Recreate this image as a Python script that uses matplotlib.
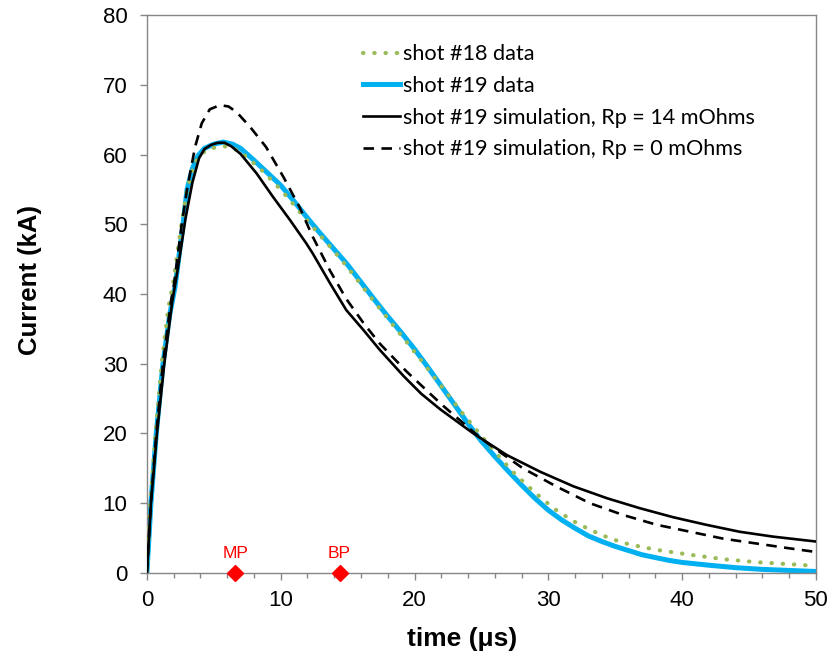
import numpy as np
import matplotlib.pyplot as plt

plt.rcParams['font.family'] = ['Liberation Sans', 'DejaVu Sans']

# shot #18 measured current (green dots)
t18 = [0, 0.25, 0.65, 1.1, 1.6, 2.0, 2.5, 3.0, 3.5, 4.0, 4.6, 5.3, 6.0, 6.8, 7.5, 8.5, 9.5,
       10.5, 11.5, 12.5, 13.5, 14.5, 15.5, 16.5, 17.5, 18.5, 19.5, 20.5, 21.5, 22.5, 23.5,
       24.5, 25.5, 26.5, 27.5, 28.5, 29.5, 30.6, 31.8, 33.1, 34.3, 35.6, 36.8, 38.1, 40.6,
       43.1, 45.6, 48.1, 50]
i18 = [0, 10, 20, 30, 38, 42, 49, 55, 58.5, 60.0, 60.8, 61.1, 61.2, 60.6, 59.6, 57.9, 56.0,
       53.9, 51.6, 49.4, 47.2, 45.0, 42.6, 40.1, 37.7, 35.3, 32.9, 30.5, 28.0, 25.6, 23.1,
       20.8, 18.5, 16.3, 14.2, 12.4, 10.7, 9.0, 7.5, 6.2, 5.2, 4.3, 3.8, 3.3, 2.6,
       1.96, 1.53, 1.24, 1.0]

# shot #19 measured current (blue)
t19 = [0, 0.3, 0.7, 1.2, 1.7, 2.1, 2.7, 3.0, 3.4, 3.8, 4.3, 5.0, 5.7, 6.4, 7.0, 8.0, 9.0,
       10, 11, 12, 13, 14, 15, 16, 17, 18, 19, 20, 21, 22, 23, 24, 25, 26, 27, 28, 29, 30,
       31, 32, 33, 34, 35, 36, 37, 38, 39, 40, 42, 44, 46, 48, 50]
i19 = [0, 10, 20, 30, 37, 41, 50, 55, 58, 59.8, 60.9, 61.5, 61.8, 61.5, 60.9, 59.2, 57.4,
       55.6, 53.3, 50.9, 48.6, 46.4, 44.2, 41.7, 39.2, 36.8, 34.5, 32.1, 29.5, 26.8, 24.1,
       21.4, 18.9, 16.7, 14.6, 12.6, 10.7, 9.0, 7.6, 6.4, 5.3, 4.5, 3.8, 3.2, 2.6, 2.2, 1.8,
       1.5, 1.1, 0.75, 0.5, 0.35, 0.2]

# simulation, Rp = 14 mOhms
t_sim14 = [0, 0.3, 0.75, 1.3, 1.9, 2.3, 2.9, 3.4, 3.9, 4.3, 4.8, 5.3, 5.8, 6.3, 7.0, 8.2,
           9.4, 10.7, 11.9, 12.4, 13.7, 14.9, 16.2, 17.4, 19.2, 20.5, 21.9, 24.4, 26.9, 29.4,
           31.9, 34.4, 36.8, 39.3, 41.8, 44.3, 46.8, 50]
i_sim14 = [0, 10, 20, 30, 39, 43.5, 51, 56, 59.5, 60.8, 61.4, 61.7, 61.7, 61.2, 60.1, 57.3,
           54.0, 50.6, 47.3, 45.8, 41.5, 37.7, 34.8, 32.0, 28.2, 25.7, 23.5, 20.0, 16.9, 14.5,
           12.4, 10.7, 9.3, 8.0, 6.9, 5.9, 5.2, 4.5]

# simulation, Rp = 0 mOhms
t_sim0 = [0, 0.3, 0.7, 1.2, 1.8, 2.0, 2.6, 3.0, 3.6, 4.1, 4.7, 5.46, 6.1, 6.7, 7.7, 8.9,
          10.2, 11.4, 12.4, 13.7, 14.9, 16.2, 17.4, 19.4, 22.0, 24.6, 25.6, 28.1, 30.6, 33.1,
          35.6, 38.1, 40.6, 43.1, 45.6, 48.1, 50]
i_sim0 = [0, 10, 20, 30, 39, 41, 50, 55, 61.1, 64.5, 66.5, 67.1, 66.9, 66.1, 64.0, 61.1,
          56.8, 52.5, 48.2, 43.3, 39.3, 35.8, 32.9, 28.9, 24.2, 19.9, 18.4, 15.0, 12.4, 10.0,
          8.3, 6.9, 5.9, 4.9, 4.2, 3.5, 3.0]

# marker positions on the time axis
mark_labels = ['MP', 'BP']
mark_t = [6.6, 14.4]

grey = '#868686'

fig = plt.figure(figsize=(8.3, 6.6), dpi=100)
ax = fig.add_axes([0.177, 0.132, 0.806, 0.845])

ax.plot(t18, i18, color='#9BBB59', lw=3.0, linestyle=(0, (0.1, 2.6)),
        dash_capstyle='round', label='shot #18 data', zorder=3)
ax.plot(t19, i19, color='#00B0F0', lw=3.6, label='shot #19 data', zorder=2)
ax.plot(t_sim14, i_sim14, color='black', lw=1.9,
        label='shot #19 simulation, Rp = 14 mOhms', zorder=4)
ax.plot(t_sim0, i_sim0, color='black', lw=1.9, linestyle=(0, (4, 2.8)),
        label='shot #19 simulation, Rp = 0 mOhms', zorder=4)

ax.plot(mark_t, [0] * len(mark_t), 'D', color='red', ms=8.5, clip_on=False, zorder=5)
for lab, t in zip(mark_labels, mark_t):
    ax.text(t, 2.1, lab, color='red', ha='center', va='baseline', fontsize=12.5)

ax.set_xlim(0, 50)
ax.set_ylim(0, 80)
ax.set_xticks(np.arange(0, 51, 10))
ax.set_xticks(np.arange(0, 51, 2), minor=True)
ax.set_yticks(np.arange(0, 81, 10))

for s in ax.spines.values():
    s.set_color(grey)
    s.set_linewidth(1.0)
ax.tick_params(which='major', direction='out', length=5, width=1, color=grey,
               labelsize=16)
ax.tick_params(axis='x', which='major', pad=7)
ax.tick_params(axis='y', which='major', pad=9)
ax.tick_params(which='minor', direction='out', length=3.5, width=1, color=grey)

ax.set_xlabel('time (μs)', fontsize=19, fontweight='bold')
ax.set_ylabel('Current (kA)', fontsize=18.5, fontweight='bold')
ax.xaxis.set_label_coords(0.471, -0.097)
ax.yaxis.set_label_coords(-0.157, 0.525)

leg = ax.legend(loc='upper left', bbox_to_anchor=(0.323, 0.948), frameon=False,
                prop={'family': 'Lato', 'size': 15.6}, handlelength=1.7,
                handletextpad=0.15, labelspacing=0.54, borderpad=0, borderaxespad=0)

fig.savefig('out.png', dpi=100)
